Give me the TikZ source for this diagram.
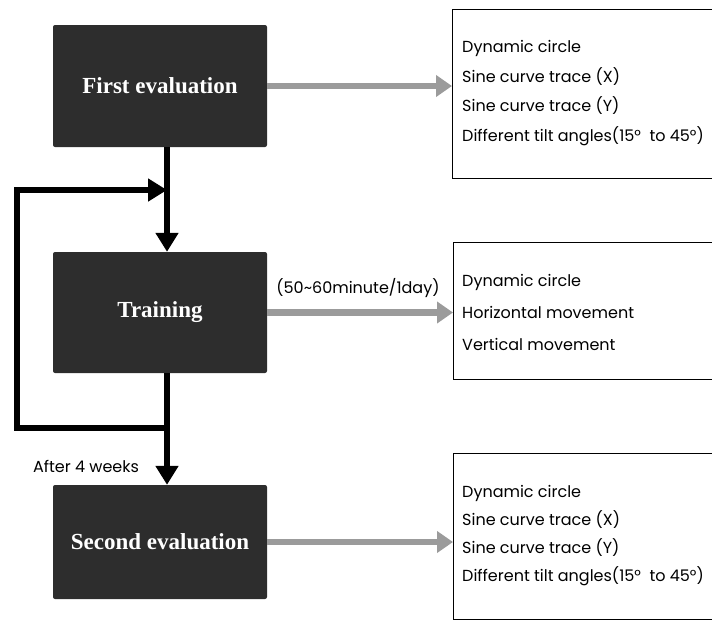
\documentclass[tikz,border=0pt]{standalone}
\usepackage{fontspec}
\setmainfont{Liberation Serif}
\newfontfamily\gothic{Poppins}
\usepackage{tikz}
\usetikzlibrary{arrows.meta}

\definecolor{boxdark}{RGB}{45,45,45}
\definecolor{feedgray}{RGB}{155,155,155}

\tikzset{
  evalbox/.style={fill=boxdark,rounded corners=2pt,minimum width=214pt,text=white,
    font=\fontsize{23}{25}\selectfont\bfseries},
  infobox/.style={draw,line width=0.7pt,anchor=north west,minimum width=270pt},
  infotext/.style={anchor=west,align=left,inner sep=0pt},
  flow/.style={line width=6.5pt,-{Triangle[width=22pt,length=19pt]}},
  feed/.style={draw=feedgray,line width=6.5pt,-{Triangle[width=21pt,length=16pt]}},
  note/.style={font=\gothic\fontsize{16}{18}\selectfont},
}

\begin{document}
\begin{tikzpicture}[x=1pt,y=-1pt]
    \useasboundingbox (0,0) rectangle (712,622);

    % left column
    \node[evalbox,minimum height=122pt] (first) at (160,86) {First evaluation};
    \node[evalbox,minimum height=121pt] (train) at (160,312.5) {Training};
    \node[evalbox,minimum height=114pt] (second) at (160,542) {Second evaluation};

    % right column
    \node[infobox,minimum height=169pt] (res1) at (452,9) {};
    \node[infobox,minimum height=137pt] (res2) at (453,242) {};
    \node[infobox,minimum height=166pt] (res3) at (453,453) {};

    \node[infotext,font=\gothic\fontsize{16}{29.5}\selectfont] (list1) at (462,93)
        {Dynamic circle\\Sine curve trace (X)\\Sine curve trace (Y)\\Different tilt angles(15°\ \ to 45°)};
    \node[infotext,font=\gothic\fontsize{16}{32}\selectfont] (list2) at (462,312)
        {Dynamic circle\\Horizontal movement\\Vertical movement};
    \node[infotext,font=\gothic\fontsize{16}{28}\selectfont] (list3) at (462,536)
        {Dynamic circle\\Sine curve trace (X)\\Sine curve trace (Y)\\Different tilt angles(15°\ \ to 45°)};

    \node[note] (daily) at (358,288) {(50\textasciitilde 60minute/1day)};
    \node[note] (weeks) at (86,466) {After 4 weeks};

    % loop corners
    \coordinate (split) at (167,428);
    \coordinate (loopdown) at (17,428);
    \coordinate (loopup) at (17,190);
    \coordinate (merge) at (167,190);

    \draw[flow] ([xshift=7pt]first.south) -- ([xshift=7pt]train.north);
    \draw[flow] ([xshift=7pt]train.south) -- ([xshift=7pt]second.north);
    \draw[flow] (split) -- (loopdown) -- (loopup) -- (merge);

    \draw[feed] (first.east) -- (first.east -| res1.west);
    \draw[feed] (train.east) -- (train.east -| res2.west);
    \draw[feed] (second.east) -- (second.east -| res3.west);
\end{tikzpicture}
\end{document}
